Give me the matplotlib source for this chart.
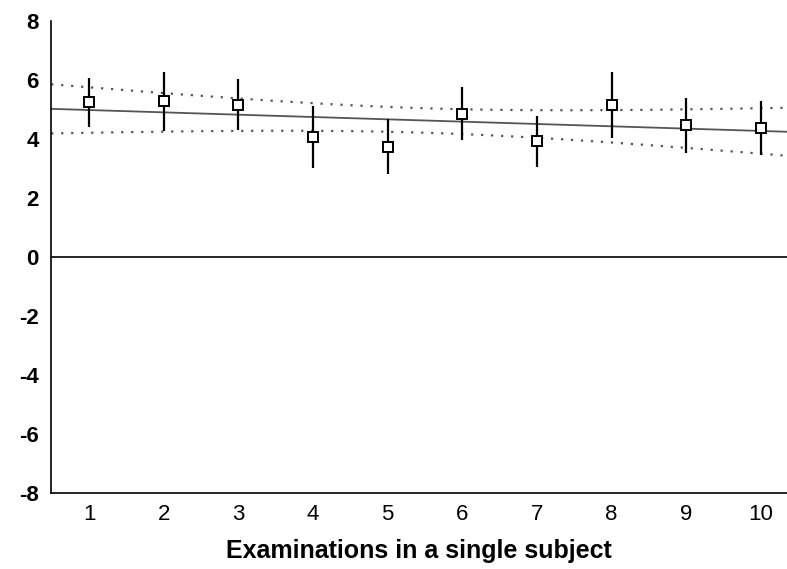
import numpy as np
import matplotlib.pyplot as plt

plt.rcParams['font.family'] = ['Liberation Sans', 'DejaVu Sans']
plt.rcParams['axes.unicode_minus'] = False

exams = [1, 2, 3, 4, 5, 6, 7, 8, 9, 10]
means = [5.25, 5.28, 5.16, 4.08, 3.74, 4.85, 3.92, 5.15, 4.47, 4.37]
errs = [0.83, 1.00, 0.87, 1.05, 0.93, 0.90, 0.87, 1.11, 0.93, 0.93]
y_ticks = [-8, -6, -4, -2, 0, 2, 4, 6, 8]
t_crit = 2.306  # 95%, 8 df

x = np.array(exams, dtype=float)
y = np.array(means)

# least squares fit of the means with 95% confidence band
slope, icpt = np.polyfit(x, y, 1)
resid = y - (icpt + slope * x)
s = np.sqrt(np.sum(resid ** 2) / (len(x) - 2))
xs = np.linspace(0.49, 10.35, 200)
fit = icpt + slope * xs
half = t_crit * s * np.sqrt(1 / len(x) + (xs - x.mean()) ** 2 / np.sum((x - x.mean()) ** 2))

fig = plt.figure(figsize=(7.87, 5.69), dpi=100)
ax = fig.add_axes([0.065, 0.134, 0.935, 0.829])

ax.axhline(0, color='black', lw=1.2)
ax.plot(xs, fit, color='#555555', lw=1.3)
ax.plot(xs, fit + half, color='#555555', lw=1.6, linestyle=(0, (1, 3.5)))
ax.plot(xs, fit - half, color='#555555', lw=1.6, linestyle=(0, (1, 3.5)))
ax.errorbar(x, y, yerr=errs, fmt='s', color='black', ecolor='black', elinewidth=1.6,
            capsize=0, markersize=7, markerfacecolor='white', markeredgecolor='black',
            markeredgewidth=1.4, zorder=5)

ax.set_xlim(0.49, 10.35)
ax.set_ylim(-8, 8)
ax.set_xticks(exams)
ax.set_xticklabels([str(e) for e in exams], fontsize=16)
ax.set_yticks(y_ticks)
ax.set_yticklabels([str(v) for v in y_ticks], fontsize=16, fontweight='bold')
ax.tick_params(axis='both', length=0)
ax.tick_params(axis='y', pad=9)
ax.tick_params(axis='x', pad=8)
ax.spines['top'].set_visible(False)
ax.spines['right'].set_visible(False)
ax.spines['left'].set_linewidth(1.2)
ax.spines['bottom'].set_linewidth(1.2)
ax.set_xlabel('Examinations in a single subject', fontsize=18,
              fontweight='bold', labelpad=10)

fig.savefig('out.png', dpi=100)
